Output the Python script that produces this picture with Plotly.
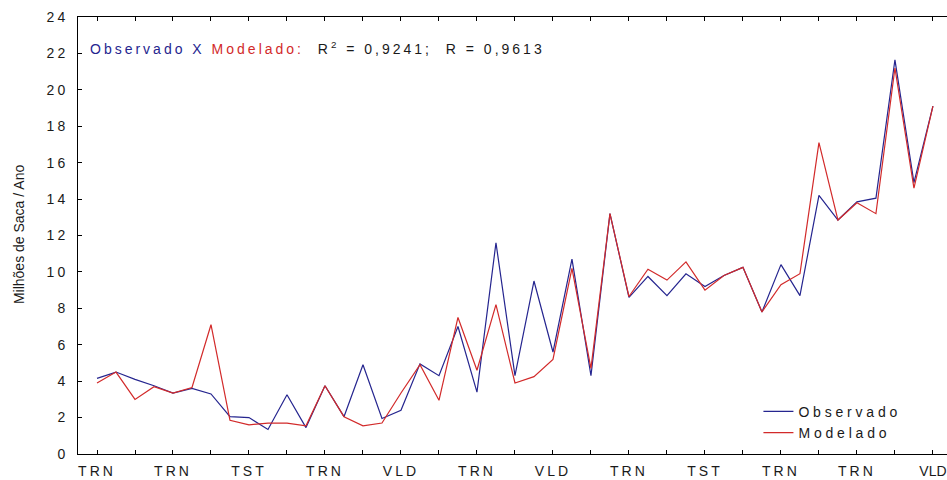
import plotly.graph_objects as go

# ---- data ----
case_index = list(range(45))
observado = [4.15, 4.5, 4.1, 3.75, 3.35, 3.6, 3.3, 2.05, 2.0, 1.35,
             3.25, 1.45, 3.75, 2.05, 4.9, 1.95, 2.4, 4.95, 4.3, 7.0,
             3.4, 11.6, 4.3, 9.5, 5.6, 10.7, 4.3, 13.2, 8.6, 9.75,
             8.7, 9.9, 9.2, 9.8, 10.25, 7.8, 10.4, 8.7, 14.2, 12.85,
             13.85, 14.05, 21.65, 14.9, 19.1]
modelado = [3.9, 4.5, 3.0, 3.7, 3.35, 3.65, 7.1, 1.85, 1.6, 1.7,
            1.7, 1.55, 3.75, 2.05, 1.55, 1.7, 3.35, 4.9, 2.95, 7.5,
            4.6, 8.2, 3.9, 4.25, 5.2, 10.2, 4.7, 13.2, 8.65, 10.15,
            9.55, 10.55, 9.0, 9.8, 10.25, 7.8, 9.3, 9.9, 17.1, 12.85,
            13.8, 13.2, 21.2, 14.6, 19.1]
x_tick_labels = ["TRN", "TRN", "TST", "TRN", "VLD", "TRN",
                 "VLD", "TRN", "TST", "TRN", "TRN", "VLD"]
y_tick_values = list(range(0, 25, 2))

BLUE = "#25258f"
RED = "#d22a2a"
TXT = "#1a1a1a"


def sp(t, color=None, ls=3):
    style = f"letter-spacing:{ls}px" if color is None else f"letter-spacing:{ls}px;color:{color}"
    return f"<span style='{style}'>{t}</span>"


x_tickvals = list(range(0, 45, 4))
x_minorvals = list(range(2, 45, 4))
# last label sits at the right edge: tighter spacing so it stays inside the page
x_ticktext = [sp(t, ls=(0 if i == len(x_tick_labels) - 1 else 3))
              for i, t in enumerate(x_tick_labels)]

fig = go.Figure()
fig.add_trace(go.Scatter(x=case_index, y=observado, mode="lines",
                         name=sp("Observado", ls=3.8),
                         line=dict(color=BLUE, width=1.2)))
fig.add_trace(go.Scatter(x=case_index, y=modelado, mode="lines",
                         name=sp("Modelado", ls=3.8),
                         line=dict(color=RED, width=1.2)))

fig.update_layout(
    width=947, height=480,
    margin=dict(l=78, r=0, t=17, b=26, autoexpand=False),
    paper_bgcolor="white", plot_bgcolor="white",
    font=dict(family="Liberation Sans, Arial, sans-serif", size=14, color=TXT),
    showlegend=True,
    legend=dict(x=0.783, y=0.012, xanchor="left", yanchor="bottom",
                bgcolor="rgba(0,0,0,0)", font=dict(size=14, color=TXT),
                itemwidth=30, tracegroupgap=0),
    xaxis=dict(range=[-1, 44.74], tickmode="array", tickvals=x_tickvals,
               ticktext=x_ticktext, ticks="inside", ticklen=4, tickcolor="black",
               minor=dict(tickmode="array", tickvals=x_minorvals, ticks="inside",
                          ticklen=4, tickcolor="black", showgrid=False),
               showline=True, linecolor="black", linewidth=1, mirror="ticks",
               showgrid=False, zeroline=False, automargin=False,
               ticklabelstandoff=4, ticklabeloverflow="allow"),
    yaxis=dict(range=[0, 24], tickmode="array", tickvals=y_tick_values,
               ticktext=[sp(str(v)) for v in y_tick_values],
               ticks="inside", ticklen=4, tickcolor="black",
               showline=True, linecolor="black", linewidth=1,
               showgrid=False, zeroline=False, automargin=False,
               ticklabelstandoff=6, ticklabeloverflow="allow"),
    annotations=[
        dict(xref="paper", yref="paper", x=0.011, y=0.929,
             xanchor="left", yanchor="middle", showarrow=False,
             text=sp("Observado X ", BLUE) + sp("Modelado:", RED)
             + sp("  R<sup>2</sup> = 0,9241;  R = 0,9613"),
             font=dict(size=14, color=TXT)),
        dict(xref="paper", yref="paper", x=-0.068, y=0.503,
             xanchor="center", yanchor="middle", showarrow=False,
             textangle=-90, text="Milhões de Saca / Ano",
             font=dict(size=14, color=TXT)),
    ],
)

fig.write_html("out.html")
